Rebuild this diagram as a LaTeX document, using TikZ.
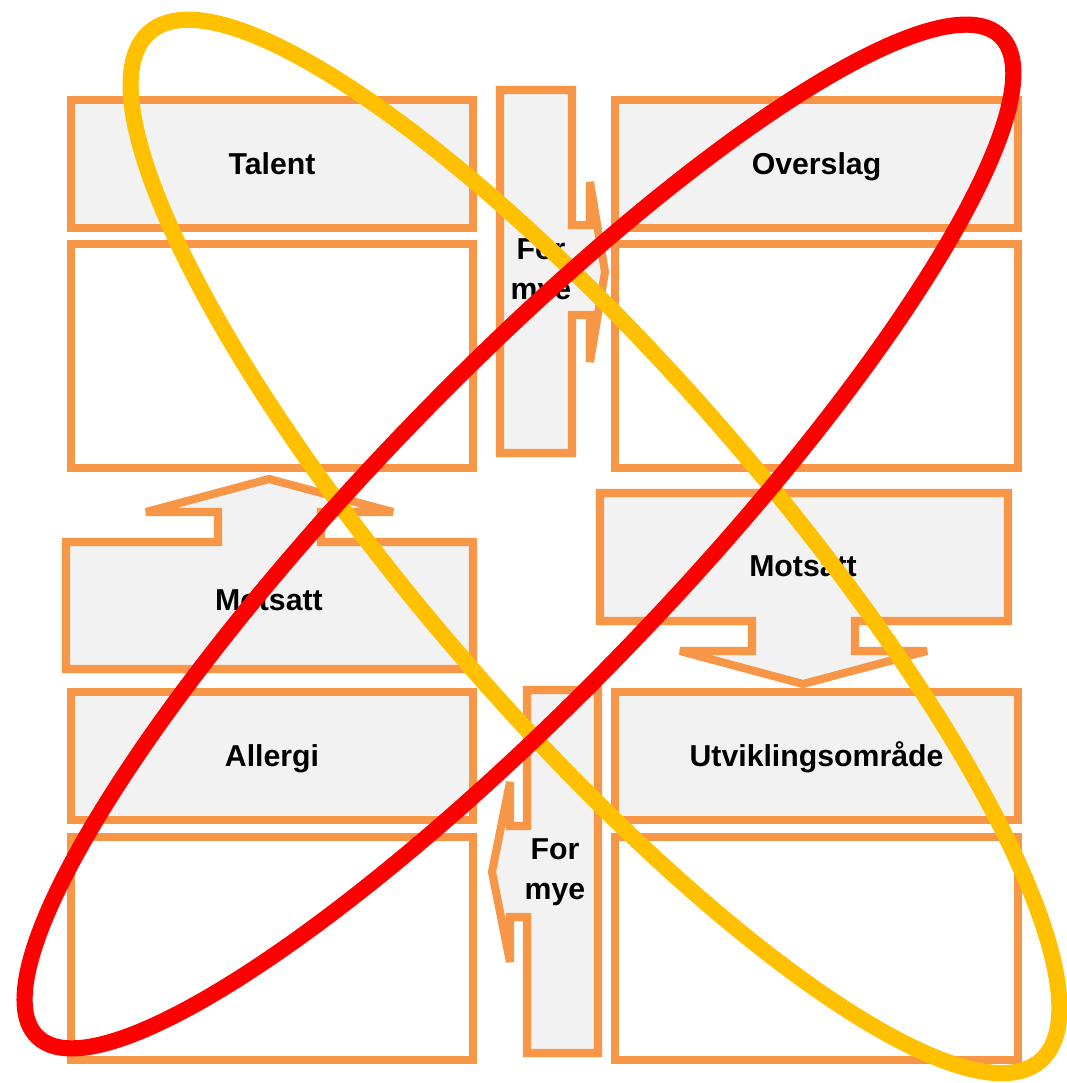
\documentclass[tikz,border=0pt]{standalone}
\usepackage{fontspec}
\setmainfont{Liberation Sans}
\usetikzlibrary{positioning}
\definecolor{boxorange}{HTML}{F79646}
\definecolor{boxgray}{HTML}{F2F2F2}
\definecolor{ringyellow}{HTML}{FFC000}
\definecolor{ringred}{HTML}{FF0000}
\tikzset{
  labelfont/.style={font=\bfseries\fontsize{8.6}{11.4}\selectfont},
  headbox/.style={draw=boxorange,line width=2.3pt,fill=boxgray,minimum width=4.02cm,minimum height=1.28cm,inner sep=0pt,text height=6.2pt,text depth=0pt,labelfont},
  notebox/.style={draw=boxorange,line width=2.3pt,fill=white,minimum width=4.02cm,minimum height=2.24cm,inner sep=0pt},
  bentarrow/.style={draw=boxorange,line width=2.3pt,fill=boxgray,line join=miter,miter limit=5},
  arrowlabel/.style={align=center,inner sep=0pt,labelfont},
  ring/.style={line width=4.6pt}
}
\begin{document}
\begin{tikzpicture}[x=0.01cm,y=-0.01cm]
\useasboundingbox (0,0) rectangle (1066,1083);
% four quadrants
\node[headbox] (talent) at (272,164) {Talent};
\node[notebox] (talentnote) at (272,356) {};
\node[headbox] (overslag) at (816.5,164) {Overslag};
\node[notebox] (overslagnote) at (816.5,356) {};
\node[headbox] (allergi) at (272,756) {Allergi};
\node[notebox,minimum height=2.23cm] (allerginote) at (272,948.5) {};
\node[headbox] (utvikling) at (816.5,756) {Utviklingsområde};
\node[notebox,minimum height=2.23cm] (utviklingnote) at (816.5,948.5) {};
% arrow callouts
\draw[bentarrow] (500,90) -- (572,90) -- (572,225) -- (590,225) -- (590,182) -- (605,272)
  -- (590,362) -- (590,315) -- (572,315) -- (572,453) -- (500,453) -- cycle;
\node[arrowlabel] (formyetop) at (541,272) {For\\mye};
\draw[bentarrow] (66,542) -- (218,542) -- (218,512) -- (146,512) -- (269,479) -- (393,512)
  -- (321,512) -- (321,542) -- (473,542) -- (473,669) -- (66,669) -- cycle;
\node[arrowlabel] (motsattleft) at (269,600) {Motsatt};
\draw[bentarrow] (600,493) -- (1008,493) -- (1008,621) -- (855,621) -- (855,651) -- (927,651)
  -- (803,684) -- (680,651) -- (752,651) -- (752,621) -- (600,621) -- cycle;
\node[arrowlabel] (motsattright) at (803,566) {Motsatt};
\draw[bentarrow] (527,690) -- (598,690) -- (598,1053) -- (527,1053) -- (527,917) -- (510,917)
  -- (510,962) -- (492,872) -- (510,782) -- (510,826) -- (527,826) -- cycle;
\node[arrowlabel] (formyebottom) at (555,872) {For\\mye};
% crossing rings
\coordinate (yellowc) at (595,546.5);
\coordinate (redc) at (519,536.5);
\draw[ring,ringyellow,rotate around={-49.1:(yellowc)}] (yellowc) ellipse [x radius=6.8cm,y radius=1.73cm];
\draw[ring,ringred,rotate around={46.1:(redc)}] (redc) ellipse [x radius=6.94cm,y radius=1.55cm];
\end{tikzpicture}
\end{document}
